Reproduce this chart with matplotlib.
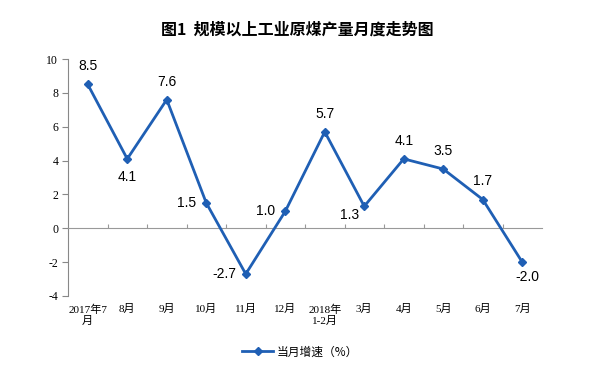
import matplotlib
matplotlib.use("Agg")
import matplotlib.pyplot as plt
import matplotlib.transforms as mtransforms
from matplotlib.lines import Line2D

plt.rcParams['font.family'] = ['Liberation Sans', 'Noto Sans CJK SC', 'DejaVu Sans']

categories = ["2017年7\n月", "8月", "9月", "10月", "11月", "12月", "2018年\n1-2月",
              "3月", "4月", "5月", "6月", "7月"]
values = [8.5, 4.1, 7.6, 1.5, -2.7, 1.0, 5.7, 1.3, 4.1, 3.5, 1.7, -2.0]
label_pos = ["above", "below", "above", "left", "left", "left", "above",
             "lowerleft", "above", "above", "above", "belowright"]
yticks = [-4, -2, 0, 2, 4, 6, 8, 10]
title = "图1  规模以上工业原煤产量月度走势图"
series_name = "当月增速（%）"

color = "#1F5FB4"

fig = plt.figure(figsize=(5.95, 3.72), dpi=100)
ax = fig.add_axes([68/595, 1-296/372, (542-68)/595, (296-59)/372])

x = list(range(len(values)))
ax.plot(x, values, color=color, lw=2.0, marker="D", ms=4.5, zorder=3)

ax.set_xlim(-0.5, len(values) - 0.5)
ax.set_ylim(-4, 10)
ax.set_yticks(yticks)
ax.set_yticklabels([str(t) for t in yticks], fontfamily="Liberation Serif", fontsize=8.5)
ax.tick_params(axis="y", direction="out", length=4, color="#888888", pad=3)

for s in ["top", "right"]:
    ax.spines[s].set_visible(False)
ax.spines["left"].set_color("#888888")
ax.spines["bottom"].set_position(("data", 0))
ax.spines["bottom"].set_color("#999999")

ax.set_xticks([i + 0.5 for i in x[:-1]])
ax.set_xticklabels([])
ax.tick_params(axis="x", direction="in", length=3, color="#999999")

trans = mtransforms.blended_transform_factory(ax.transData, ax.transAxes)
for i, lab in enumerate(categories):
    ax.text(i, -0.035, lab, transform=trans, ha="center", va="top",
            fontsize=8, family=["Liberation Serif", "Noto Sans CJK SC"],
            linespacing=1.2)

offsets = {"above": (0, 8, "center", "bottom"),
           "below": (0, -8, "center", "top"),
           "belowright": (4, -6, "center", "top"),
           "left": (-7, 0, "right", "center"),
           "lowerleft": (-4, -6, "right", "center")}
for i, (v, p) in enumerate(zip(values, label_pos)):
    dx, dy, ha, va = offsets[p]
    ax.annotate(f"{v:.1f}", (i, v), xytext=(dx, dy), textcoords="offset points",
                ha=ha, va=va, fontsize=10, color="black")

fig.text(297/595, 1-30/372, title, ha="center", va="center", fontsize=11.5,
         fontweight="bold", family=["Noto Sans CJK SC", "DejaVu Sans"])

handle = Line2D([], [], color=color, lw=2.0, marker="D", ms=4)
fig.legend([handle], [series_name], loc="center", bbox_to_anchor=(300/595, 1-352/372),
           frameon=False, prop={"family": ["Noto Sans CJK SC", "DejaVu Sans"], "size": 8.5},
           handlelength=2.6, handletextpad=0.3)

fig.savefig("out.png", dpi=100)
